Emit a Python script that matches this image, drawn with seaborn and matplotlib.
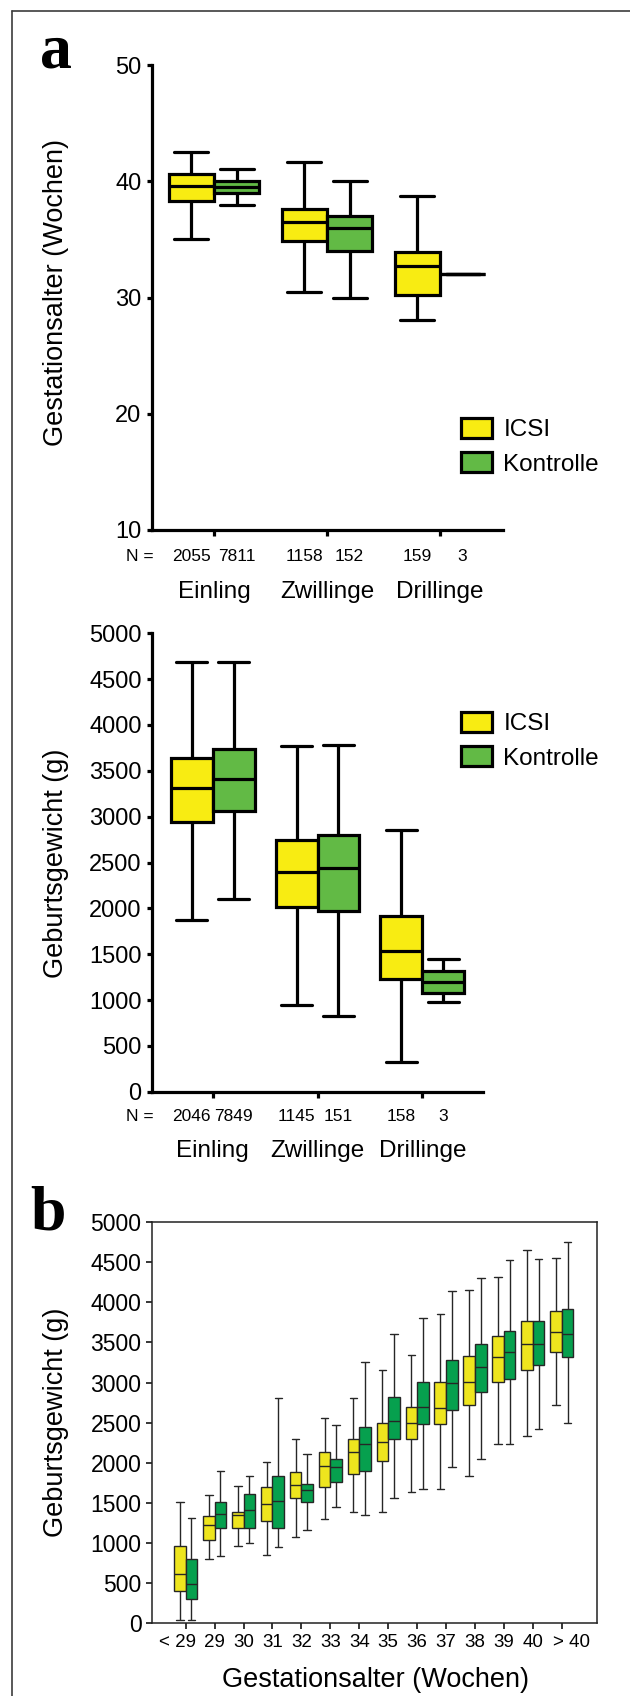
import numpy as np
import pandas as pd
import matplotlib
matplotlib.use("Agg")
import matplotlib.pyplot as plt
import matplotlib.transforms as mtransforms
from matplotlib import font_manager
import seaborn as sns
from matplotlib.lines import Line2D

# ---------------- data (five-number summaries) ----------------
groups = ["Einling", "Zwillinge", "Drillinge"]
hue_names = ["ICSI", "Kontrolle"]

# Panel a: Gestationsalter (Wochen)
ga_icsi_whislo = [35.0, 30.5, 28.1]
ga_icsi_q1 = [38.3, 34.85, 30.25]
ga_icsi_med = [39.6, 36.5, 32.75]
ga_icsi_q3 = [40.6, 37.65, 33.9]
ga_icsi_whishi = [42.55, 41.65, 38.7]
ga_ctrl_whislo = [38.0, 30.0, 32.0]
ga_ctrl_q1 = [39.0, 34.0, 32.0]
ga_ctrl_med = [39.5, 36.0, 32.0]
ga_ctrl_q3 = [40.0, 37.0, 32.0]
ga_ctrl_whishi = [41.05, 40.0, 32.0]
ga_n_icsi = ["2055", "1158", "159"]
ga_n_ctrl = ["7811", "152", "3"]

# Panel a (lower): Geburtsgewicht (g)
bw_icsi_whislo = [1870, 950, 320]
bw_icsi_q1 = [2940, 2020, 1225]
bw_icsi_med = [3315, 2400, 1535]
bw_icsi_q3 = [3645, 2745, 1915]
bw_icsi_whishi = [4690, 3770, 2855]
bw_ctrl_whislo = [2105, 830, 980]
bw_ctrl_q1 = [3065, 1975, 1080]
bw_ctrl_med = [3415, 2440, 1200]
bw_ctrl_q3 = [3740, 2795, 1320]
bw_ctrl_whishi = [4690, 3780, 1450]
bw_n_icsi = ["2046", "1145", "158"]
bw_n_ctrl = ["7849", "151", "3"]

# Panel b: Geburtsgewicht by Gestationsalter
ga_weeks = ["< 29", "29", "30", "31", "32", "33", "34", "35", "36", "37", "38", "39", "40", "> 40"]
b_icsi_whislo = [37, 800, 960, 855, 1080, 1305, 1390, 1390, 1635, 1675, 1840, 2230, 2335, 2725]
b_icsi_q1 = [407, 1040, 1185, 1270, 1555, 1695, 1860, 2025, 2295, 2480, 2725, 3010, 3155, 3385]
b_icsi_med = [611, 1225, 1355, 1490, 1720, 1965, 2130, 2255, 2500, 2680, 3010, 3320, 3485, 3625]
b_icsi_q3 = [965, 1335, 1390, 1695, 1885, 2130, 2295, 2500, 2700, 3005, 3335, 3585, 3770, 3895]
b_icsi_whishi = [1510, 1595, 1715, 2005, 2295, 2560, 2805, 3160, 3340, 3850, 4155, 4320, 4650, 4550]
b_ctrl_whislo = [37, 835, 1000, 955, 1165, 1455, 1350, 1555, 1675, 1945, 2045, 2230, 2415, 2500]
b_ctrl_q1 = [303, 1185, 1185, 1185, 1510, 1760, 1900, 2295, 2480, 2660, 2880, 3050, 3215, 3320]
b_ctrl_med = [490, 1360, 1410, 1530, 1660, 1945, 2230, 2525, 2700, 2990, 3195, 3380, 3485, 3605]
b_ctrl_q3 = [798, 1515, 1615, 1840, 1735, 2045, 2450, 2825, 3005, 3275, 3480, 3645, 3770, 3910]
b_ctrl_whishi = [1310, 1900, 1840, 2805, 2105, 2475, 3260, 3605, 3805, 4135, 4300, 4530, 4545, 4755]


def long_frame(cats, icsi_stats, ctrl_stats):
    """Long table: each box is given by its five summary values; with whis=(0,100)
    seaborn recomputes exactly these min / quartiles / median / max."""
    rows = []
    for name, stats in zip(hue_names, (icsi_stats, ctrl_stats)):
        for i, cat in enumerate(cats):
            for s in stats:
                rows.append((cat, name, s[i]))
    return pd.DataFrame(rows, columns=["cat", "gruppe", "wert"])


df_ga = long_frame(groups,
                   [ga_icsi_whislo, ga_icsi_q1, ga_icsi_med, ga_icsi_q3, ga_icsi_whishi],
                   [ga_ctrl_whislo, ga_ctrl_q1, ga_ctrl_med, ga_ctrl_q3, ga_ctrl_whishi])
df_bw = long_frame(groups,
                   [bw_icsi_whislo, bw_icsi_q1, bw_icsi_med, bw_icsi_q3, bw_icsi_whishi],
                   [bw_ctrl_whislo, bw_ctrl_q1, bw_ctrl_med, bw_ctrl_q3, bw_ctrl_whishi])
df_b = long_frame(ga_weeks,
                  [b_icsi_whislo, b_icsi_q1, b_icsi_med, b_icsi_q3, b_icsi_whishi],
                  [b_ctrl_whislo, b_ctrl_q1, b_ctrl_med, b_ctrl_q3, b_ctrl_whishi])

# ---------------- style ----------------
sns.set_theme(style="ticks")
plt.rcParams['font.family'] = ['Liberation Sans', 'DejaVu Sans']
plt.rcParams['text.color'] = 'black'
plt.rcParams['axes.labelcolor'] = 'black'
plt.rcParams['xtick.color'] = 'black'
plt.rcParams['ytick.color'] = 'black'

_installed = {f.name for f in font_manager.fontManager.ttflist}
if "Liberation Sans Narrow" in _installed:
    NARROW = ["Liberation Sans Narrow", "DejaVu Sans"]
    N_SIZE, XT_SIZE = 15, 15
else:
    NARROW = ["Liberation Sans", "DejaVu Sans"]
    N_SIZE, XT_SIZE = 12.5, 13.5

YEL_A = "#F8EC12"
GRN_A = "#62BA45"
YEL_B = "#EEE51E"
GRN_B = "#06A04E"

W, H = 630, 1696
fig = plt.figure(figsize=(W / 100, H / 100), dpi=100)


def px_axes(left, right, top, bottom):
    return fig.add_axes([left / W, 1 - bottom / H, (right - left) / W, (bottom - top) / H])


def top_panel(ax, df, ylim, yticks, n_icsi, n_ctrl, n_off, cat_off, xlim, ylabel, ylabel_y, leg_top):
    sns.boxplot(data=df, x="cat", y="wert", hue="gruppe", order=groups, hue_order=hue_names,
                palette=[YEL_A, GRN_A], saturation=1, whis=(0, 100), width=0.8, gap=0,
                linewidth=2.3, linecolor="black", ax=ax, capwidths=0.3)
    sns.despine(ax=ax)
    for s in ("left", "bottom"):
        ax.spines[s].set_linewidth(2.3)
        ax.spines[s].set_color("black")
    ax.set_xlim(*xlim)
    ax.set_ylim(*ylim)
    ax.set_yticks(yticks)
    ax.set_xticks(range(len(groups)))
    ax.set_xticklabels([])
    ax.tick_params(axis="y", labelsize=17, width=2.3, length=3.5, pad=4)
    ax.tick_params(axis="x", width=2.3, length=4.5)
    ax.set_xlabel("")
    ax.set_ylabel(ylabel, fontsize=19.5, va="center", ha="center")
    ax.yaxis.set_label_coords(56 / W, 1 - ylabel_y / H, transform=fig.transFigure)
    # N counts and category names under the axis
    ax.annotate("N =", xy=(0, 0), xycoords="axes fraction", xytext=(-8.5, -n_off),
                textcoords="offset points", ha="center", va="center", fontsize=N_SIZE,
                family=NARROW, annotation_clip=False)
    for i, cat in enumerate(groups):
        for dx, txt in ((-0.2, n_icsi[i]), (0.2, n_ctrl[i])):
            ax.annotate(txt, xy=(i + dx, 0), xycoords=("data", "axes fraction"),
                        xytext=(0, -n_off), textcoords="offset points", ha="center",
                        va="center", fontsize=N_SIZE, family=NARROW, annotation_clip=False)
        ax.annotate(cat, xy=(i, 0), xycoords=("data", "axes fraction"),
                    xytext=(0, -cat_off), textcoords="offset points", ha="center",
                    va="center", fontsize=17.5, annotation_clip=False)
    sns.move_legend(ax, "upper left", bbox_to_anchor=(461 / W, 1 - leg_top / H),
                    bbox_transform=fig.transFigure, frameon=False, title=None,
                    fontsize=17.5, handlelength=1.27, handleheight=0.89,
                    labelspacing=0.45, handletextpad=0.47, borderpad=0, borderaxespad=0)


# ---- panel a, top: gestational age ----
axA = px_axes(152, 503, 65, 530)
top_panel(axA, df_ga, (10, 50), [10, 20, 30, 40, 50], ga_n_icsi, ga_n_ctrl,
          19.2, 44.6, (-0.549, 2.558), "Gestationsalter (Wochen)", 293, 418)

# ---- panel a, lower: birth weight ----
axM = px_axes(152, 482.5, 633.3, 1091.7)
top_panel(axM, df_bw, (0, 5000), list(range(0, 5001, 500)), bw_n_icsi, bw_n_ctrl,
          18.0, 42.7, (-0.578, 2.573), "Geburtsgewicht (g)", 863, 712)

# ---- panel b ----
axB = px_axes(152, 596.5, 1222, 1623.3)
sns.boxplot(data=df_b, x="cat", y="wert", hue="gruppe", order=ga_weeks, hue_order=hue_names,
            palette=[YEL_B, GRN_B], saturation=1, whis=(0, 100), width=0.8, gap=0,
            linewidth=1.0, linecolor="#262626", ax=axB, legend=False, capwidths=0.26)
for s in axB.spines.values():
    s.set_linewidth(1.1)
    s.set_color("#222222")
axB.set_xlim(-1.165, 14.2)
axB.set_ylim(0, 5000)
axB.set_yticks(list(range(0, 5001, 500)))
axB.set_xticks(range(len(ga_weeks)))
axB.set_xticklabels(ga_weeks, family=NARROW)
axB.tick_params(axis="y", labelsize=16.5, width=1.1, length=4.5, pad=3)
axB.tick_params(axis="x", labelsize=XT_SIZE, width=1.1, length=4.5, pad=3)
# the "< 29" / "> 40" labels hang outward so that they do not collide with neighbours
xt = axB.get_xticklabels()
xt[0].set_transform(xt[0].get_transform() + mtransforms.ScaledTranslation(-8 / 100, 0, fig.dpi_scale_trans))
xt[-1].set_transform(xt[-1].get_transform() + mtransforms.ScaledTranslation(10 / 100, 0, fig.dpi_scale_trans))
axB.set_ylabel("Geburtsgewicht (g)", fontsize=19.5, va="center", ha="center")
axB.yaxis.set_label_coords(56 / W, 1 - 1422.5 / H, transform=fig.transFigure)
axB.set_xlabel("Gestationsalter (Wochen)", fontsize=19.5, va="center", ha="center")
axB.xaxis.set_label_coords(376 / W, 1 - 1680 / H, transform=fig.transFigure)

# panel letters
fig.text(40 / W, 1 - 67 / H, "a", fontsize=46, fontweight="bold",
         family="Liberation Serif", va="baseline", ha="left")
fig.text(30 / W, 1 - 1230 / H, "b", fontsize=46, fontweight="bold",
         family="Liberation Serif", va="baseline", ha="left")

# thin page frame (top and left edge)
fig.add_artist(Line2D([12 / W, 1.0], [1 - 10.5 / H, 1 - 10.5 / H], transform=fig.transFigure,
                      color="#3c3c3c", lw=1.2))
fig.add_artist(Line2D([12 / W, 12 / W], [0.0, 1 - 10.5 / H], transform=fig.transFigure,
                      color="#3c3c3c", lw=1.2))

fig.savefig("out.png", dpi=100)
